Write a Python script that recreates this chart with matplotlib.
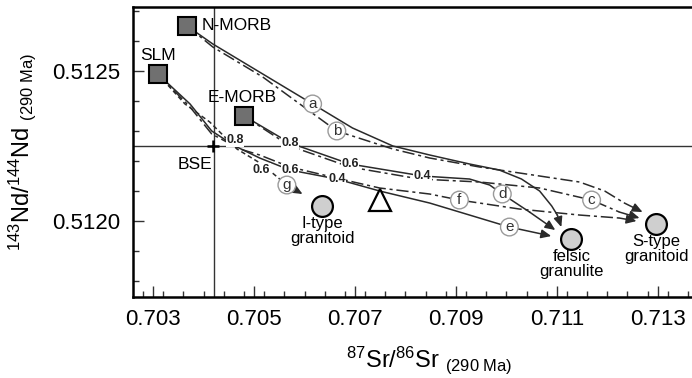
import matplotlib
matplotlib.use('Agg')
import matplotlib.pyplot as plt
import matplotlib as mpl
from matplotlib.ticker import MultipleLocator, FixedLocator

params = {
    'font.family': ['Liberation Sans', 'DejaVu Sans'],
    'mathtext.fontset': 'custom',
    'mathtext.rm': 'Liberation Sans',
    'mathtext.it': 'Liberation Sans',
    'font.size': 12,
    'xtick.labelsize': 16,
    'ytick.labelsize': 16,
}
mpl.rcParams.update(params)

# end members (Sr, Nd at 290 Ma)
squares = {'N-MORB': (0.70367, 0.51265), 'SLM': (0.70309, 0.51249), 'E-MORB': (0.70480, 0.51235)}
bse = (0.70418, 0.51225)
granites = {'I-type\ngranitoid': (0.70635, 0.51205),
            'felsic\ngranulite': (0.71129, 0.51194),
            'S-type\ngranitoid': (0.71297, 0.51199)}
triangle = (0.70749, 0.51207)

# mixing curves: x, y, style, circle-label position
curve_a_x = [0.70367, 0.70418, 0.70517, 0.70616, 0.70695, 0.70775, 0.70848, 0.70927, 0.70986, 0.71030, 0.71066, 0.71090, 0.71101, 0.71109]
curve_a_y = [0.51265, 0.51259, 0.51249, 0.51239, 0.51231, 0.51225, 0.51222, 0.51219, 0.51217, 0.51214, 0.51210, 0.51205, 0.51202, 0.51198]
curve_b_x = [0.70367, 0.70418, 0.70517, 0.70664, 0.70775, 0.70848, 0.70947, 0.71066, 0.71145, 0.71195, 0.71234, 0.71270]
curve_b_y = [0.51265, 0.51258, 0.51248, 0.51230, 0.51224, 0.51221, 0.51218, 0.51215, 0.51213, 0.51210, 0.51206, 0.51203]
curve_c_x = [0.70480, 0.70571, 0.70690, 0.70828, 0.70947, 0.71066, 0.71169, 0.71224, 0.71264]
curve_c_y = [0.51235, 0.51225, 0.51218, 0.51214, 0.51213, 0.51211, 0.51207, 0.51203, 0.51201]
curve_d_x = [0.70480, 0.70571, 0.70690, 0.70834, 0.70927, 0.70967, 0.70992, 0.71046, 0.71097]
curve_d_y = [0.51235, 0.51226, 0.51219, 0.51215, 0.51214, 0.51212, 0.51209, 0.51203, 0.51197]
curve_e_x = [0.70309, 0.70373, 0.70416, 0.70462, 0.70511, 0.70571, 0.70664, 0.70749, 0.70848, 0.70927, 0.71006, 0.71089]
curve_e_y = [0.51249, 0.51239, 0.51230, 0.51225, 0.51221, 0.51217, 0.51214, 0.51210, 0.51206, 0.51202, 0.51198, 0.51195]
curve_f_x = [0.70309, 0.70373, 0.70416, 0.70472, 0.70511, 0.70571, 0.70697, 0.70749, 0.70848, 0.70907, 0.71026, 0.71145, 0.71224, 0.71258]
curve_f_y = [0.51249, 0.51238, 0.51229, 0.51224, 0.51222, 0.51218, 0.51213, 0.51211, 0.51209, 0.51207, 0.51204, 0.51202, 0.51201, 0.51200]
curve_g_x = [0.70309, 0.70363, 0.70412, 0.70466, 0.70515, 0.70565, 0.70596]
curve_g_y = [0.51249, 0.51239, 0.51233, 0.51224, 0.51219, 0.51212, 0.51209]

curves = [
    (curve_a_x, curve_a_y, 'a', (0.70616, 0.51239), '-'),
    (curve_b_x, curve_b_y, 'b', (0.70664, 0.51230), (0, (8, 2.5, 2, 2.5))),
    (curve_c_x, curve_c_y, 'c', (0.71169, 0.51207), (0, (8, 2.5, 2, 2.5))),
    (curve_d_x, curve_d_y, 'd', (0.70992, 0.51209), '-'),
    (curve_e_x, curve_e_y, 'e', (0.71006, 0.51198), '-'),
    (curve_f_x, curve_f_y, 'f', (0.70907, 0.51207), (0, (8, 2.5, 2, 2.5))),
    (curve_g_x, curve_g_y, 'g', (0.70565, 0.51212), (0, (3, 2))),
]

# mixing proportions along curves
frac_text = ['0.8', '0.6', '0.6', '0.4', '0.8', '0.6', '0.4']
frac_x = [0.70462, 0.70515, 0.70571, 0.70664, 0.70571, 0.70690, 0.70834]
frac_y = [0.51227, 0.51217, 0.51217, 0.51214, 0.51226, 0.51219, 0.51215]

ref_x = 0.70420
ref_y = 0.51225

fig = plt.figure(figsize=(6.92, 3.78), dpi=100)
ax = fig.add_axes([0.1922, 0.2151, 0.8078, 0.7656])
ax.set_xlim(0.7026, 0.71368)
ax.set_ylim(0.511748, 0.512712)

col = '#2a2a2a'
ax.axvline(ref_x, color='#333333', lw=1, zorder=1)
ax.axhline(ref_y, color='#333333', lw=1, zorder=1)

for cx, cy, lab, lpos, ls in curves:
    ax.plot(cx[:-1], cy[:-1], color=col, lw=1.1, ls=ls, zorder=2, solid_joinstyle='round')
    ax.annotate('', xy=(cx[-1], cy[-1]), xytext=(cx[-2], cy[-2]),
                arrowprops=dict(arrowstyle='-|>,head_length=0.5,head_width=0.22',
                                color=col, lw=1.1, shrinkA=0, shrinkB=0), zorder=3)
    ax.text(lpos[0], lpos[1], lab, ha='center', va='center', fontsize=11, color='#333333', zorder=6,
            bbox=dict(boxstyle='circle,pad=0.12', fc='white', ec='#9a9a9a', lw=1))

for t, fx, fy in zip(frac_text, frac_x, frac_y):
    ax.text(fx, fy, t, ha='center', va='center', fontsize=9, fontweight='bold', color='#222222', zorder=5,
            bbox=dict(boxstyle='square,pad=0.05', fc='white', ec='none'))

for name, (sx, sy) in squares.items():
    ax.plot(sx, sy, 's', ms=13, mfc='#707070', mec='black', mew=1.5, zorder=7)
ax.text(0.70367 + 0.00029, 0.51265, 'N-MORB', ha='left', va='center', fontsize=12.5, zorder=8)
ax.text(0.70309, 0.51255, 'SLM', ha='center', va='center', fontsize=12.5, zorder=8)
ax.text(0.70480 - 0.00003, 0.51241, 'E-MORB', ha='center', va='center', fontsize=12.5, zorder=8)

ax.plot(bse[0], bse[1], '+', ms=9, mew=1.8, color='black', zorder=8)
ax.text(0.70383, 0.51219, 'BSE', ha='center', va='center', fontsize=12.5, zorder=8)

for name, (gx, gy) in granites.items():
    ax.plot(gx, gy, 'o', ms=15, mfc='#cfcfcf', mec='black', mew=1.6, zorder=7)
    ax.text(gx, gy - 0.000033, name, ha='center', va='top', fontsize=12, linespacing=1.0, zorder=8)

ax.plot(triangle[0], triangle[1], '^', ms=16, mfc='white', mec='black', mew=1.6, zorder=7)

ax.xaxis.set_major_locator(FixedLocator([0.703, 0.705, 0.707, 0.709, 0.711, 0.713]))
ax.xaxis.set_minor_locator(MultipleLocator(0.0004))
ax.yaxis.set_major_locator(FixedLocator([0.5120, 0.5125]))
ax.yaxis.set_minor_locator(MultipleLocator(0.0001))
ax.set_xticklabels(['0.703', '0.705', '0.707', '0.709', '0.711', '0.713'])
ax.set_yticklabels(['0.5120', '0.5125'])
ax.tick_params(which='both', direction='in', top=False, right=False, color='#333333')
ax.tick_params(axis='x', which='major', length=8, width=1, pad=9)
ax.tick_params(axis='x', which='minor', length=4, width=1)
ax.tick_params(axis='y', which='major', length=8, width=1, pad=9)
ax.tick_params(axis='y', which='minor', length=4, width=1)

for s in ['left', 'bottom', 'top']:
    ax.spines[s].set_linewidth(1.8)
ax.spines['right'].set_visible(False)

ax.set_xlabel(r'$^{87}$Sr/$^{86}$Sr $_{(290\ Ma)}$', fontsize=17)
ax.xaxis.set_label_coords(0.53, -0.165)
ax.set_ylabel(r'$^{143}$Nd/$^{144}$Nd $_{(290\ Ma)}$', fontsize=17)
ax.yaxis.set_label_coords(-0.17, 0.5)

fig.savefig('out.png', dpi=100)
